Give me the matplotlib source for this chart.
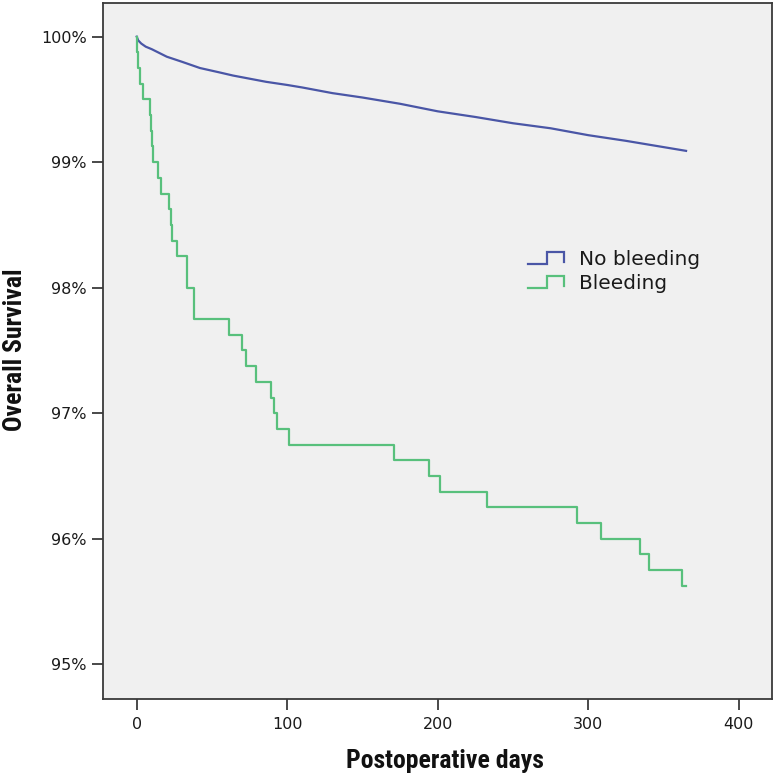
import numpy as np
import matplotlib
matplotlib.use("Agg")
import matplotlib.pyplot as plt
from matplotlib.legend_handler import HandlerBase
from matplotlib.lines import Line2D
from matplotlib.ticker import FuncFormatter
from matplotlib import font_manager

# ---- data ----
no_bleed_days = [0, 1, 3, 6, 10, 15, 20, 30, 42, 55, 64, 75, 86, 100, 110, 130,
                 150, 175, 200, 225, 250, 275, 300, 325, 340, 365]
no_bleed_surv = [100.0, 99.97, 99.945, 99.92, 99.90, 99.87, 99.84, 99.80, 99.75,
                 99.715, 99.69, 99.665, 99.64, 99.615, 99.595, 99.55, 99.515,
                 99.465, 99.405, 99.36, 99.31, 99.27, 99.215, 99.17, 99.14, 99.09]

bleed_days = [0, 0.3, 1, 2.2, 4.4, 8.9, 9.5, 10.4, 11.1, 14.2, 16.4, 21.5, 22.6,
              23.3, 26.6, 33.7, 38, 61.4, 70.2, 72.5, 79.1, 89.5, 90.9, 93.5,
              101.3, 171.1, 194.4, 201.7, 232.7, 292.6, 308.5, 334.7, 340.7,
              362.2, 365]
bleed_surv = [100.0, 99.875, 99.75, 99.625, 99.5, 99.375, 99.25, 99.125, 99.0,
              98.875, 98.75, 98.625, 98.5, 98.375, 98.25, 98.0, 97.75, 97.625,
              97.5, 97.375, 97.25, 97.125, 97.0, 96.875, 96.75, 96.625, 96.5,
              96.375, 96.25, 96.125, 96.0, 95.875, 95.75, 95.625, 95.625]

series_labels = ["No bleeding", "Bleeding"]
x_ticks = [0, 100, 200, 300, 400]
y_ticks = [95, 96, 97, 98, 99, 100]

BLUE = "#4a56a6"
GREEN = "#58c07c"
SPINE = "#3a3a3a"

# pick a condensed/narrow bold family if one is installed
available = {f.name for f in font_manager.fontManager.ttflist}
cond = [n for n in ["Liberation Sans Narrow", "DejaVu Sans Condensed",
                    "Roboto Condensed", "Open Sans Condensed", "Lato"]
        if n in available]
title_family = cond[0] if cond else "DejaVu Sans"


class StepHandler(HandlerBase):
    def create_artists(self, legend, orig_handle, xdescent, ydescent,
                       width, height, fontsize, trans):
        xs = np.array([0.0, 0.5, 0.5, 0.97, 0.97])
        ys = np.array([0.05, 0.05, 0.95, 0.95, 0.2])
        ln = Line2D(xs * width - xdescent, ys * height - ydescent,
                    color=orig_handle.get_color(), lw=orig_handle.get_linewidth(),
                    solid_joinstyle="miter")
        ln.set_transform(trans)
        return [ln]


fig = plt.figure(figsize=(7.74, 7.74), dpi=100)
fig.patch.set_facecolor("white")
ax = fig.add_axes([102.7 / 774, 75 / 774, 669 / 774, 696.5 / 774])
ax.set_facecolor("#f0f0f0")

h1, = ax.plot(no_bleed_days, no_bleed_surv, color=BLUE, lw=1.6,
              label=series_labels[0])
h2, = ax.plot(bleed_days, bleed_surv, color=GREEN, lw=1.6,
              drawstyle="steps-post", label=series_labels[1])

ax.set_xlim(-22.6, 421.9)
ax.set_ylim(94.723, 100.272)
ax.set_xticks(x_ticks)
ax.set_yticks(y_ticks)
ax.yaxis.set_major_formatter(FuncFormatter(lambda v, p: f"{v:.0f}%"))

for s in ax.spines.values():
    s.set_color(SPINE)
    s.set_linewidth(1.3)

ax.tick_params(axis="both", direction="out", length=8, width=1.3,
               color=SPINE, labelsize=11.5, labelcolor="#1a1a1a")
ax.tick_params(axis="y", pad=3.5)
ax.tick_params(axis="x", pad=5)
for lab in ax.get_xticklabels() + ax.get_yticklabels():
    lab.set_family("DejaVu Sans")

title_font = dict(family=title_family, weight="bold", size=18.5,
                  color="#111111")
fig.text(445 / 774, 1 - 761 / 774, "Postoperative days", ha="center",
         va="center", **title_font)
fig.text(15 / 774, 1 - 350 / 774, "Overall Survival", ha="center",
         va="center", rotation=90, **title_font)

leg = ax.legend(handles=[h1, h2], handler_map={Line2D: StepHandler()},
                loc="upper left", bbox_to_anchor=(528 / 774, 1 - 250 / 774),
                bbox_transform=fig.transFigure, frameon=False, borderpad=0,
                borderaxespad=0, handlelength=1.85, handleheight=0.6,
                handletextpad=0.7, labelspacing=0.25,
                prop=dict(family="DejaVu Sans", size=14.5))
for t in leg.get_texts():
    t.set_color("#1a1a1a")

fig.savefig("out.png", dpi=100, facecolor="white")
